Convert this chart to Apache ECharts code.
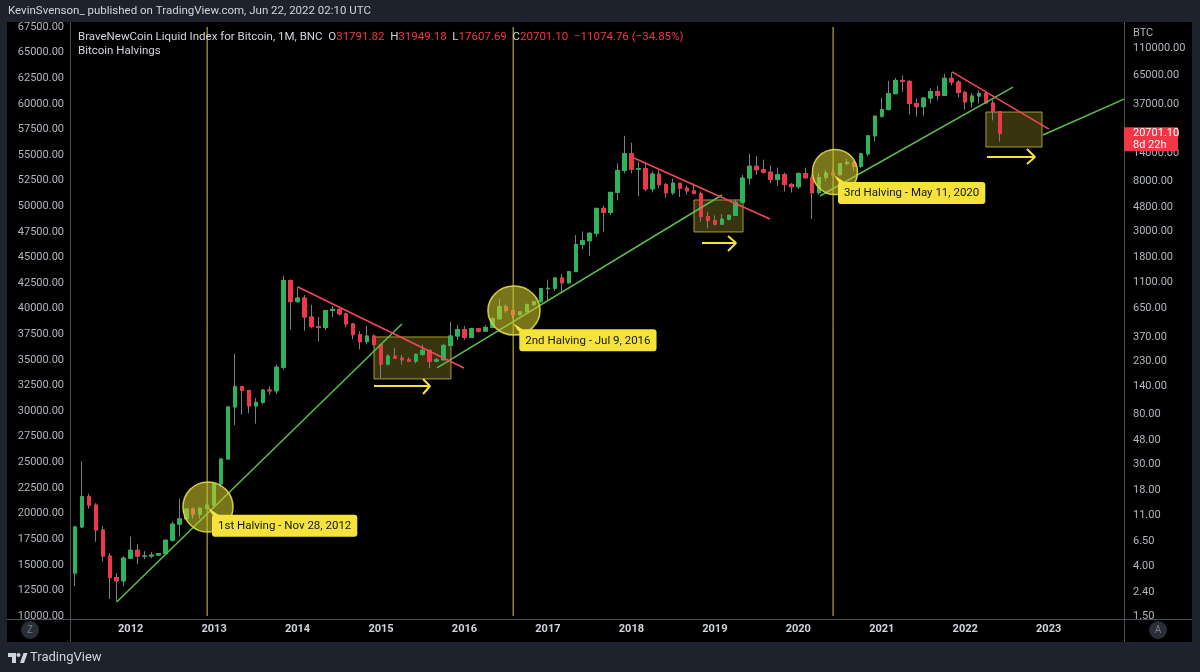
<!DOCTYPE html>
<html>
<head>
<meta charset="utf-8">
<script src="https://cdn.jsdelivr.net/npm/echarts@6.0.0/dist/echarts.min.js"></script>
<style>
html,body{margin:0;padding:0;background:#1e222d;}
#chart{width:1200px;height:672px;}
</style>
</head>
<body>
<div id="chart"></div>
<script>
// ---------- categories (monthly bars, May 2011 .. Nov 2023 axis span) ----------
const months = [];
for (let y = 2011, m = 5; months.length < 151; m++) {
  if (m > 12) { m = 1; y++; }
  months.push(y + '-' + String(m).padStart(2, '0'));
}
const yearLabels = ['2012','2013','2014','2015','2016','2017','2018','2019','2020','2021','2022','2023'];
const priceTickLabels = [1.5, 2.4, 4, 6.5, 11, 18, 30, 48, 80, 140, 230, 370, 650, 1100, 1800, 3000, 4800, 8000, 14000, 20000, 37000, 65000, 110000];
const priceAxisMin = 1.5, priceAxisMax = 168900;

// ---------- BLX monthly OHLC (May 2011 .. Jun 2022) ----------
const opens = [
  3.5, 8.7, 15.8, 13.4, 8.2, 4.9, 3.2, 3.0,
  4.7, 5.5, 4.9, 4.9, 5.0, 5.15, 6.7, 9.2, 10.2, 12.4, 11.2, 12.6,
  13.4, 20.4, 33.3, 93, 139, 129, 95, 102, 130, 128, 204, 1130,
  745, 800, 550, 455, 447, 625, 640, 585, 480, 388, 338, 378,
  320, 217, 254, 244, 236, 230, 263, 285, 230, 236, 314, 378,
  430, 368, 437, 416, 448, 531, 673, 624, 575, 609, 701, 742,
  963, 970, 1190, 1080, 1348, 2300, 2480, 2875, 4700, 4340, 6450, 9950,
  13800, 10200, 10300, 6900, 9250, 7500, 6400, 7730, 7000, 6630, 6300, 4000,
  3700, 3440, 3800, 4100, 5300, 8550, 10800, 10080, 9600, 8300, 9150, 7550,
  7200, 9350, 8600, 6400, 8650, 9450, 9140, 11350, 11650, 10780, 13800, 19700,
  29000, 33100, 45200, 58800, 57700, 37300, 35000, 41500, 47100, 43800, 61300, 57000,
  46300, 38500, 43200, 45500, 37650, 31791.82
];
const highs = [
  8.9, 31.9, 16.8, 13.9, 8.9, 5.2, 3.5, 4.9,
  7.2, 6.2, 5.4, 5.3, 5.2, 6.8, 9.7, 15.2, 12.6, 12.8, 12.8, 13.8,
  20.7, 33.4, 95, 266, 140, 130, 111, 133, 140, 215, 1240, 1160,
  1000, 850, 700, 550, 630, 680, 650, 600, 490, 415, 460, 390,
  320, 265, 300, 260, 248, 268, 318, 285, 245, 325, 500, 470,
  460, 445, 440, 467, 550, 780, 704, 630, 610, 720, 755, 975,
  1150, 1200, 1290, 1350, 2770, 2980, 2930, 4740, 4980, 6470, 11400, 19700,
  17200, 11800, 11700, 9750, 9970, 7780, 8480, 7760, 7400, 7680, 6580, 4400,
  4100, 4200, 4100, 5600, 9100, 13800, 13200, 12300, 10950, 10500, 9520, 7750,
  9580, 10500, 9190, 9470, 10070, 10400, 11450, 12470, 12080, 14100, 19900, 29300,
  41900, 58300, 61700, 64800, 59500, 41300, 42300, 50500, 52900, 67000, 69000, 59100,
  47900, 45800, 48200, 47400, 40000, 31949.18
];
const lows = [
  2.7, 8.5, 12.5, 6.5, 4.4, 2.1, 2.0, 2.7,
  4.6, 4.2, 4.6, 4.7, 4.9, 5.1, 6.5, 7.2, 9.8, 10.3, 10.3, 12.4,
  12.9, 19.1, 33, 65, 80, 82, 67, 98, 118, 120, 195, 430,
  730, 420, 440, 340, 425, 550, 565, 450, 355, 290, 320, 310,
  165, 210, 240, 215, 227, 220, 255, 200, 225, 236, 310, 350,
  350, 365, 405, 413, 440, 520, 600, 535, 570, 604, 690, 740,
  755, 920, 890, 1065, 1340, 2100, 1830, 2680, 2970, 4110, 5510, 9400,
  9400, 6000, 6600, 6450, 7050, 5780, 6120, 5880, 6140, 6200, 3600, 3170,
  3350, 3380, 3700, 4080, 5280, 7500, 9100, 9350, 7750, 7300, 6550, 6430,
  6870, 8450, 3800, 6150, 8120, 8900, 8990, 10950, 9880, 10400, 13200, 17600,
  28200, 32400, 45000, 47000, 30000, 28800, 29300, 37400, 39600, 43300, 53300, 42000,
  33000, 34400, 37200, 37600, 26700, 17607.69
];
const closes = [
  8.7, 15.8, 13.4, 8.2, 4.9, 3.2, 3.0, 4.7,
  5.5, 4.9, 4.9, 5.0, 5.15, 6.7, 9.2, 10.2, 12.4, 11.2, 12.6, 13.4,
  20.4, 33.3, 93, 139, 129, 95, 102, 130, 128, 204, 1130, 745,
  800, 550, 455, 447, 625, 640, 585, 480, 388, 338, 378, 320,
  217, 254, 244, 236, 230, 263, 285, 230, 236, 314, 378, 430,
  368, 437, 416, 448, 531, 673, 624, 575, 609, 701, 742, 963,
  970, 1190, 1080, 1348, 2300, 2480, 2875, 4700, 4340, 6450, 9950, 13800,
  10200, 10300, 6900, 9250, 7500, 6400, 7730, 7000, 6630, 6300, 4000, 3700,
  3440, 3800, 4100, 5300, 8550, 10800, 10080, 9600, 8300, 9150, 7550, 7200,
  9350, 8600, 6400, 8650, 9450, 9140, 11350, 11650, 10780, 13800, 19700, 29000,
  33100, 45200, 58800, 57700, 37300, 35000, 41500, 47100, 43800, 61300, 57000, 46300,
  38500, 43200, 45500, 37650, 31792, 20701.10
];

// ---------- drawings (x = bar index from May 2011, y = price) ----------
const greenTrendlines = [
  [[6.0, 1.98], [47.0, 479]],
  [[52.05, 201], [93.03, 6120]],
  [[107.12, 6000], [134.87, 51600]],
  [[139.18, 20000], [150.83, 40700]]
];
const redTrendlines = [
  [[32.06, 995], [55.93, 201]],
  [[80.37, 12700], [99.93, 3810]],
  [[126.1, 69500], [140.04, 22500]]
];
const consolidationBoxes = [
  [[42.99, 371], [54.06, 162]],
  [[89.0, 5550], [96.05, 2950]],
  [[130.98, 31500], [139.04, 15800]]
];
const arrowShafts = [
  [[42.99, 140.8], [51.04, 140.8]],
  [[90.15, 2370], [95.04, 2370]],
  [[131.13, 12970], [138.03, 12970]]
];
const arrowHeads = [
  [[50.04, 161.7], [51.04, 140.8], [50.04, 120.3]],
  [[93.89, 2720], [95.04, 2370], [93.89, 2025]],
  [[136.88, 15200], [138.03, 12970], [136.88, 11300]]
];
const halvingCircles = [
  [19.12, 12.9], [63.12, 625], [109.27, 9640]
];
const halvingCircleSizes = [[50, 50], [52, 49], [45, 45]];
const halvingBars = ['2012-12', '2016-08', '2020-06'];
const halvingNotes = ['1st Halving - Nov 28, 2012', '2nd Halving - Jul 9, 2016', '3rd Halving - May 11, 2020'];
const halvingNoteTips = [[19.12, 12.7], [63.02, 486], [109.13, 9080]];
const halvingNoteOffsets = [[4, 7], [6, 6], [4, 7]];

const lastClose = closes[closes.length - 1];

// ---------- build ----------
const UP = '#2fb35a', DOWN = '#f0364a', WICK = '#7b7e88', HALVING = '#dcc63a';
const wickData = opens.map((o, i) => [i, o, closes[i], lows[i], highs[i]]);
const bodyData = opens.map((o, i) => [i, o, closes[i], Math.min(o, closes[i]), Math.max(o, closes[i])]);

function lineSeries(pts, color, width, z) {
  return {
    type: 'line', xAxisIndex: 0, yAxisIndex: 1, data: pts, showSymbol: false, symbol: 'none',
    lineStyle: { color: color, width: width }, itemStyle: { color: color }, silent: true,
    z: z || 6, animation: false, clip: true
  };
}

const series = [];
// halving bars: vertical lines spanning the full price axis
halvingBars.forEach(b => {
  const xi = months.indexOf(b);
  series.push(lineSeries([[xi, priceAxisMin], [xi, priceAxisMax]], HALVING, 1, 2));
});
series.push(
  {
    type: 'candlestick', name: 'wicks', xAxisIndex: 0, yAxisIndex: 1, data: wickData,
    encode: { x: 0, y: [1, 2, 3, 4] }, barWidth: 4,
    itemStyle: { color: WICK, color0: WICK, borderColor: WICK, borderColor0: WICK, borderWidth: 1 },
    z: 3, silent: true
  },
  {
    type: 'candlestick', name: 'bodies', xAxisIndex: 0, yAxisIndex: 1, data: bodyData,
    encode: { x: 0, y: [1, 2, 3, 4] }, barWidth: 4,
    itemStyle: { color: UP, color0: DOWN, borderColor: UP, borderColor0: DOWN, borderWidth: 1 },
    z: 4, silent: true,
    markArea: {
      silent: true,
      itemStyle: { color: 'rgba(255,235,59,0.22)', borderColor: 'rgba(190,180,50,0.85)', borderWidth: 1 },
      data: consolidationBoxes.map(b => [{ coord: b[0] }, { coord: b[1] }])
    }
  }
);
greenTrendlines.forEach(l => series.push(lineSeries(l, '#5cbf4e', 1.5)));
redTrendlines.forEach(l => series.push(lineSeries(l, '#f5475a', 1.5)));
arrowShafts.forEach(l => series.push(lineSeries(l, '#f5e23b', 2)));
arrowHeads.forEach(l => series.push(lineSeries(l, '#f5e23b', 2)));
series.push({
  type: 'scatter', xAxisIndex: 0, yAxisIndex: 1, silent: true, z: 7,
  data: halvingCircles.map((c, i) => ({ value: c, symbolSize: halvingCircleSizes[i] })),
  itemStyle: { color: 'rgba(205,200,45,0.58)', borderColor: 'rgba(215,215,70,0.95)', borderWidth: 1.5, opacity: 1 }
});
series.push({
  type: 'scatter', xAxisIndex: 0, yAxisIndex: 1, silent: true, z: 8,
  symbol: 'path://M0,0 L5,8 L12,8 Z', symbolSize: [12, 8], symbolOffset: [6, 4], symbolKeepAspect: false,
  itemStyle: { color: '#f5e23b', opacity: 1 },
  data: halvingNoteTips.map((t, i) => ({
    name: halvingNotes[i], value: t,
    label: { position: halvingNoteOffsets[i] }
  })),
  label: {
    show: true, formatter: p => p.name, color: '#131722', fontSize: 11.5,
    fontFamily: 'Roboto, "Noto Sans", sans-serif', backgroundColor: '#f5e23b',
    padding: [5, 6, 4, 6], borderRadius: 3, lineHeight: 13, align: 'left', verticalAlign: 'top'
  }
});

const FONT = 'Roboto, "Noto Sans", sans-serif';
const chart = echarts.init(document.getElementById('chart'), null, { renderer: 'canvas' });
const option = {
  backgroundColor: '#1e222d',
  animation: false,
  grid: { left: 70, right: 76, top: 27, bottom: 56 },
  xAxis: [{
    type: 'value', min: -0.72, max: 150.83,
    axisLine: { show: false }, axisTick: { show: false }, splitLine: { show: false },
    axisLabel: {
      customValues: yearLabels.map(y => months.indexOf(y + '-01')),
      formatter: v => months[Math.round(v)].slice(0, 4),
      color: '#d1d4dc', fontSize: 11, fontWeight: 'bold', fontFamily: FONT, margin: 8
    }
  }],
  yAxis: [
    {
      type: 'value', position: 'left', min: 10000, max: 67500, interval: 2500,
      axisLine: { show: false }, axisTick: { show: false }, splitLine: { show: false },
      axisLabel: { formatter: v => v.toFixed(2), color: '#b2b5be', fontSize: 11, fontFamily: FONT, margin: 6 }
    },
    {
      type: 'log', logBase: 10, position: 'right', min: priceAxisMin, max: priceAxisMax,
      axisLine: { show: false }, axisTick: { show: false }, splitLine: { show: false },
      axisLabel: {
        customValues: priceTickLabels,
        formatter: v => Number(v).toFixed(2), color: '#b2b5be', fontSize: 11, fontFamily: FONT, margin: 9
      }
    }
  ],
  series: series,
  graphic: [
    { type: 'rect', z: -10, silent: true, shape: { x: 7, y: 22, width: 1185, height: 620 }, style: { fill: '#000000' } },
    { type: 'line', z: 10, silent: true, shape: { x1: 70.5, y1: 22, x2: 70.5, y2: 642 }, style: { stroke: '#4a4d57', lineWidth: 1 } },
    { type: 'line', z: 10, silent: true, shape: { x1: 1124.5, y1: 22, x2: 1124.5, y2: 642 }, style: { stroke: '#4a4d57', lineWidth: 1 } },
    { type: 'line', z: 10, silent: true, shape: { x1: 7, y1: 619.5, x2: 1192, y2: 619.5 }, style: { stroke: '#4a4d57', lineWidth: 1 } },
    { type: 'text', z: 10, silent: true, x: 8, y: 11, style: { text: 'KevinSvenson_ published on TradingView.com, Jun 22, 2022 02:10 UTC', fill: '#d1d4dc', font: '11.5px ' + FONT, verticalAlign: 'middle' } },
    { type: 'text', z: 10, silent: true, x: 78, y: 37, style: {
      text: '{a|BraveNewCoin Liquid Index for Bitcoin, 1M, BNC  O}{r|31791.82}{a|  H}{r|31949.18}{a|  L}{r|17607.69}{a|  C}{r|20701.10  \u221211074.76 (\u221234.85%)}',
      verticalAlign: 'middle',
      rich: { a: { fill: '#d1d4dc', font: '11.5px ' + FONT }, r: { fill: '#f23645', font: '11.5px ' + FONT } }
    } },
    { type: 'text', z: 10, silent: true, x: 78, y: 51, style: { text: 'Bitcoin Halvings', fill: '#d1d4dc', font: '11.5px ' + FONT, verticalAlign: 'middle' } },
    { type: 'text', z: 10, silent: true, x: 1133, y: 33, style: { text: 'BTC', fill: '#b2b5be', font: '11px ' + FONT, verticalAlign: 'middle' } },
    { type: 'circle', z: 10, silent: true, shape: { cx: 30, cy: 630, r: 9 }, style: { fill: '#2a2e39' } },
    { type: 'text', z: 11, silent: true, x: 30, y: 630, style: { text: 'Z', fill: '#787b86', font: '10px ' + FONT, align: 'center', verticalAlign: 'middle' } },
    { type: 'circle', z: 10, silent: true, shape: { cx: 1158, cy: 630, r: 9 }, style: { fill: '#2a2e39' } },
    { type: 'text', z: 11, silent: true, x: 1158, y: 630, style: { text: 'A', fill: '#787b86', font: '10px ' + FONT, align: 'center', verticalAlign: 'middle' } },
    // TradingView footer logo
    { type: 'polygon', z: 10, silent: true, shape: { points: [[8, 653], [16, 653], [16, 663], [12, 663], [12, 657], [8, 657]] }, style: { fill: '#d1d4dc' } },
    { type: 'circle', z: 10, silent: true, shape: { cx: 18.5, cy: 655, r: 2 }, style: { fill: '#d1d4dc' } },
    { type: 'polygon', z: 10, silent: true, shape: { points: [[20, 663], [23.5, 653], [27.5, 653], [24, 663]] }, style: { fill: '#d1d4dc' } },
    { type: 'text', z: 10, silent: true, x: 30, y: 658, style: { text: 'TradingView', fill: '#d1d4dc', font: '13px ' + FONT, verticalAlign: 'middle' } }
  ]
};
chart.setOption(option);

// last price tag on the right axis, positioned through the price scale
const py = chart.convertToPixel({ yAxisIndex: 1 }, lastClose);
chart.setOption({
  graphic: option.graphic.concat([
    { type: 'rect', z: 20, silent: true, shape: { x: 1124, y: py - 6, width: 54, height: 24, r: 1 }, style: { fill: '#f23645' } },
    { type: 'text', z: 21, silent: true, x: 1133, y: py, style: { text: lastClose.toFixed(2), fill: '#ffffff', font: '11px ' + FONT, verticalAlign: 'middle' } },
    { type: 'text', z: 21, silent: true, x: 1133, y: py + 12, style: { text: '8d 22h', fill: '#ffffff', font: '11px ' + FONT, verticalAlign: 'middle' } }
  ])
});
</script>
</body>
</html>
